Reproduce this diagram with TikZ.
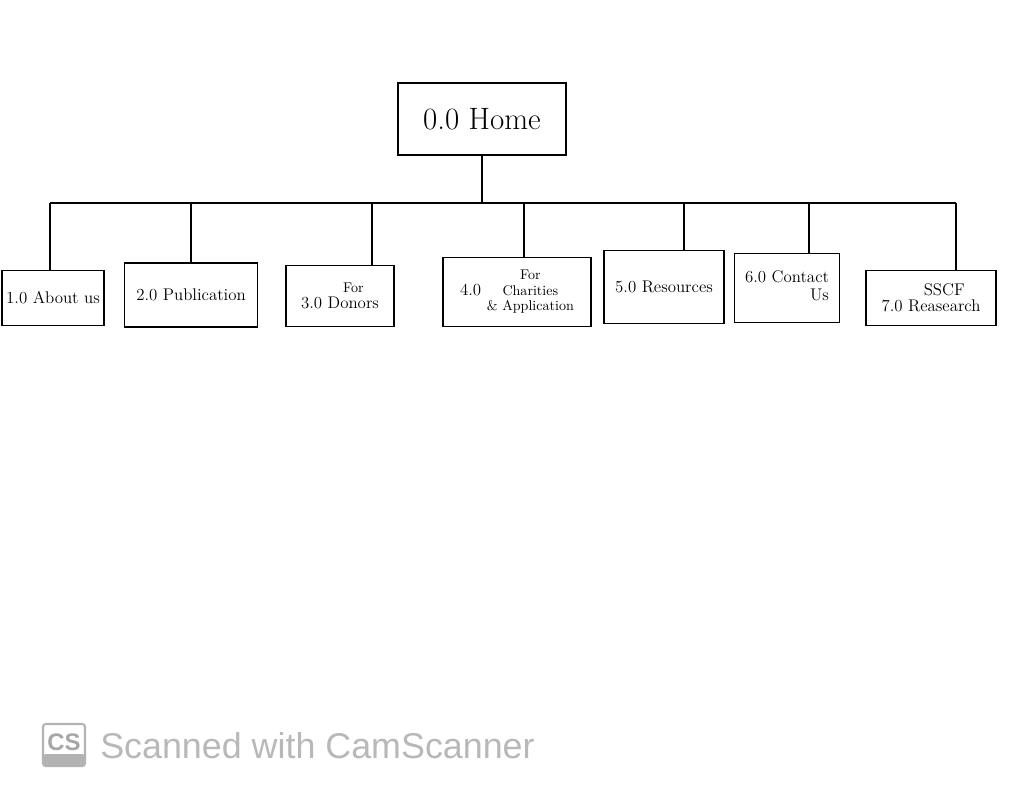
\documentclass[tikz,border=0pt]{standalone}
\usepackage{fontspec}
\newfontfamily\markfont{Liberation Sans}
\begin{document}
\begin{tikzpicture}[
    pagebox/.style={draw, line width=1.2pt, inner sep=2pt, align=center,
      font=\fontsize{12}{13}\selectfont},
    homebox/.style={pagebox, minimum width=4.2cm, minimum height=1.8cm,
      font=\fontsize{22}{24}\selectfont}
  ]
  \useasboundingbox (0,0) rectangle (25.6,-20.1);
  \draw
    (12.05,-2.975) node[homebox] (0){0.0 Home}
    (1.325,-7.45) node[pagebox, minimum width=2.55cm, minimum height=1.375cm] (1){1.0 About us}
    (4.775,-7.375) node[pagebox, minimum width=3.325cm, minimum height=1.6cm] (2){2.0 Publication}
    (8.5,-7.4) node[pagebox, minimum width=2.7cm, minimum height=1.525cm] (3){3.0 \shortstack{{\fontsize{10}{11}\selectfont For}\\Donors}}
    (12.925,-7.3) node[pagebox, minimum width=3.7cm, minimum height=1.725cm] (4){4.0 {\fontsize{10}{11}\selectfont\begin{tabular}{@{}c@{}}For\\Charities\\\& Application\end{tabular}}}
    (16.6,-7.175) node[pagebox, minimum width=3.0cm, minimum height=1.825cm] (5){5.0 Resources}
    (19.675,-7.2) node[pagebox, minimum width=2.625cm, minimum height=1.725cm] (6){\begin{tabular}{@{}r@{}}6.0 Contact\\Us\end{tabular}}
    (23.275,-7.45) node[pagebox, minimum width=3.25cm, minimum height=1.375cm] (7){7.0 \shortstack{SSCF\\Reasearch}};
  \coordinate (bus) at (0,-5.075);
  \begin{scope}[-, line width=1.2pt]
    \draw ([xshift=-0.075cm]1.north |- bus) -- ([xshift=0.625cm]7.north |- bus);
    \draw (0) -- (0 |- bus);
    \draw ([xshift=-0.075cm]1.north) -- ([xshift=-0.075cm]1.north |- bus);
    \draw (2.north) -- (2.north |- bus);
    \draw ([xshift=0.8cm]3.north) -- ([xshift=0.8cm]3.north |- bus);
    \draw ([xshift=0.175cm]4.north) -- ([xshift=0.175cm]4.north |- bus);
    \draw ([xshift=0.5cm]5.north) -- ([xshift=0.5cm]5.north |- bus);
    \draw ([xshift=0.55cm]6.north) -- ([xshift=0.55cm]6.north |- bus);
    \draw ([xshift=0.625cm]7.north) -- ([xshift=0.625cm]7.north |- bus);
  \end{scope}
  % scanner mark
  \node[draw=black!30, line width=1.5pt, rounded corners=2pt,
    minimum width=1.05cm, minimum height=1.05cm, text=black!35,
    font=\markfont\bfseries\fontsize{17}{17}\selectfont, inner sep=0pt,
    text depth=0pt, yshift=0pt,
    path picture={\fill[black!30] (path picture bounding box.south west)
      rectangle ([yshift=0.3cm]path picture bounding box.south east);}]
    (logo) at (1.6,-18.625) {\raisebox{0.12cm}{CS}};
  \node[anchor=west, text=black!28, inner sep=0pt,
    font=\markfont\fontsize{25.5}{27}\selectfont]
    (mark) at (2.5,-18.65) {Scanned with CamScanner};
\end{tikzpicture}
\end{document}
